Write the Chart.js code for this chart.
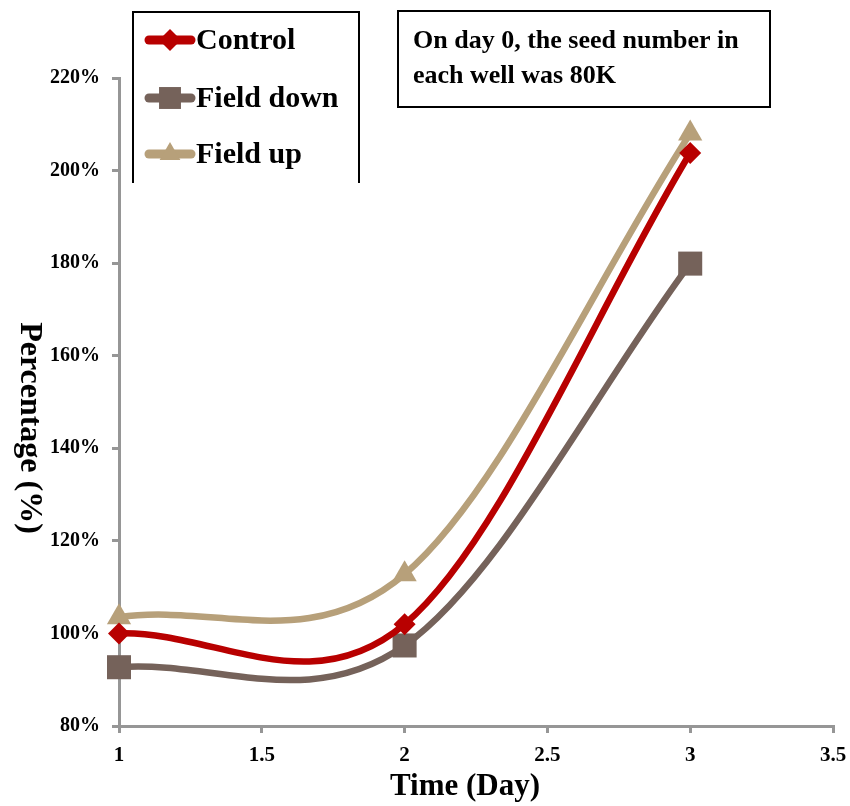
<!DOCTYPE html>
<html>
<head>
<meta charset="utf-8">
<script src="https://cdn.jsdelivr.net/npm/chart.js@4/dist/chart.umd.min.js"></script>
<style>
  html, body { margin: 0; padding: 0; background: #fff; }
  #wrap { width: 850px; height: 806px; position: relative; }
</style>
</head>
<body>
<div id="wrap"><canvas id="c" width="850" height="806"></canvas></div>
<script>
// ---- data ----
const days = [1, 2, 3];
const controlPct = [100, 102, 203.8];
const fieldDownPct = [92.7, 97.4, 179.9];
const fieldUpPct = [103.5, 112.8, 208];
const seriesNames = ['Control', 'Field down', 'Field up'];
const xTicks = [1, 1.5, 2, 2.5, 3, 3.5];
const yTicks = [80, 100, 120, 140, 160, 180, 200, 220];
const noteLines = ['On day 0, the seed number in', 'each well was 80K'];
const xTitle = 'Time (Day)';
const yTitle = 'Percentage (%)';

const colors = ['#B80000', '#75625A', '#B7A07A'];
const styles = ['rectRot', 'rect', 'triangle'];
const radii = [11, 17, 14];
const legendRadii = [11, 15.5, 12];
const values = [controlPct, fieldDownPct, fieldUpPct];

const datasets = seriesNames.map((n, i) => ({
  label: n,
  data: days.map((d, j) => ({ x: d, y: values[i][j] })),
  borderColor: colors[i],
  backgroundColor: colors[i],
  pointBackgroundColor: colors[i],
  pointBorderColor: colors[i],
  pointStyle: styles[i],
  pointRadius: radii[i],
  pointBorderWidth: 0,
  borderWidth: 6.5,
  tension: 0.5,
  clip: false,
  fill: false
}));

const serif = "'Liberation Serif', 'DejaVu Serif', serif";
const axisGray = '#969696';

// Excel-like smoothing: control points at +-(next - prev)/6, endpoints at 1/3
const excelSmooth = {
  id: 'excelSmooth',
  beforeDatasetsDraw(chart) {
    chart.data.datasets.forEach((ds, di) => {
      const meta = chart.getDatasetMeta(di);
      const line = meta.dataset;
      if (line && line.updateControlPoints) line.updateControlPoints(chart.chartArea, 'x');
      if (line) line._pointsUpdated = true;
      const p = meta.data;
      const n = p.length;
      for (let i = 0; i < n; i++) {
        const prev = p[Math.max(0, i - 1)];
        const next = p[Math.min(n - 1, i + 1)];
        let f = 1 / 6;
        const dx = next.x - prev.x, dy = next.y - prev.y;
        if (i === 0 || i === n - 1) f = 1 / 3;
        p[i].cp1x = p[i].x - dx * f;
        p[i].cp1y = p[i].y - dy * f;
        p[i].cp2x = p[i].x + dx * f;
        p[i].cp2y = p[i].y + dy * f;
      }
      if (line) line._path = undefined;
    });
  }
};

function drawMarker(ctx, st, r, x, y) {
  ctx.beginPath();
  if (st === 'rectRot') {
    ctx.moveTo(x, y - r); ctx.lineTo(x + r, y); ctx.lineTo(x, y + r); ctx.lineTo(x - r, y);
  } else if (st === 'rect') {
    const s = r * Math.SQRT1_2; ctx.rect(x - s, y - s, 2 * s, 2 * s);
  } else {
    const a = Math.PI * 2 / 3;
    ctx.moveTo(x, y - r);
    ctx.lineTo(x + r * Math.sin(a), y - r * Math.cos(a));
    ctx.lineTo(x - r * Math.sin(a), y - r * Math.cos(a));
  }
  ctx.closePath();
  ctx.fill();
}

const overlay = {
  id: 'overlay',
  afterDraw(chart) {
    const ctx = chart.ctx;
    ctx.save();
    // legend box (three sides)
    ctx.strokeStyle = '#000';
    ctx.lineWidth = 2;
    ctx.beginPath();
    ctx.moveTo(133, 183);
    ctx.lineTo(133, 12);
    ctx.lineTo(359, 12);
    ctx.lineTo(359, 183);
    ctx.stroke();
    const ly = [40, 98, 154];
    for (let i = 0; i < 3; i++) {
      ctx.strokeStyle = colors[i];
      ctx.lineWidth = 9;
      ctx.lineCap = 'round';
      ctx.beginPath();
      ctx.moveTo(149, ly[i]);
      ctx.lineTo(191, ly[i]);
      ctx.stroke();
      ctx.fillStyle = colors[i];
      drawMarker(ctx, styles[i], legendRadii[i], 170, ly[i]);
      ctx.fillStyle = '#000';
      ctx.font = 'bold 30px ' + serif;
      ctx.textBaseline = 'middle';
      ctx.textAlign = 'left';
      ctx.fillText(seriesNames[i], 196, ly[i] + 1);
    }
    // note box
    ctx.strokeStyle = '#000';
    ctx.lineWidth = 2;
    ctx.strokeRect(398, 11, 372, 96);
    ctx.fillStyle = '#000';
    ctx.font = 'bold 26px ' + serif;
    ctx.textBaseline = 'alphabetic';
    ctx.textAlign = 'left';
    ctx.fillText(noteLines[0], 413, 48);
    ctx.fillText(noteLines[1], 413, 83);
    // x title
    ctx.font = 'bold 31px ' + serif;
    ctx.textAlign = 'center';
    ctx.textBaseline = 'middle';
    ctx.fillText(xTitle, 465, 787);
    // y title, rotated clockwise
    ctx.save();
    ctx.translate(29, 428);
    ctx.rotate(Math.PI / 2);
    ctx.font = 'bold 32px ' + serif;
    ctx.textAlign = 'center';
    ctx.textBaseline = 'middle';
    ctx.fillText(yTitle, 0, 0);
    ctx.restore();
    ctx.restore();
  }
};

new Chart(document.getElementById('c'), {
  type: 'line',
  data: { datasets },
  options: {
    responsive: false,
    animation: false,
    layout: { padding: { left: 0, right: 15, top: 78, bottom: 0 } },
    plugins: { legend: { display: false }, tooltip: { enabled: false } },
    scales: {
      x: {
        type: 'linear',
        min: 1, max: 3.5,
        afterBuildTicks: (s) => { s.ticks = xTicks.map(v => ({ value: v })); },
        afterFit: (s) => { s.height = 80; s.paddingRight = 0; s.paddingLeft = 0; },
        ticks: {
          color: '#000',
          font: { family: serif, size: 21, weight: 'bold' },
          padding: 10,
          maxRotation: 0,
          autoSkip: false,
          callback: (v) => String(v)
        },
        grid: { drawOnChartArea: false, drawTicks: true, tickLength: 7, color: axisGray, lineWidth: 3 },
        border: { color: axisGray, width: 3 },
        title: { display: false }
      },
      y: {
        type: 'linear',
        min: 80, max: 220,
        afterBuildTicks: (s) => { s.ticks = yTicks.map(v => ({ value: v })); },
        afterFit: (s) => { s.width = 119; },
        ticks: {
          color: '#000',
          font: { family: serif, size: 20, weight: 'bold' },
          padding: 12,
          autoSkip: false,
          callback: (v) => v + '%'
        },
        grid: { drawOnChartArea: false, drawTicks: true, tickLength: 7, color: axisGray, lineWidth: 3 },
        border: { color: axisGray, width: 3 }
      }
    }
  },
  plugins: [excelSmooth, overlay]
});
</script>
</body>
</html>
